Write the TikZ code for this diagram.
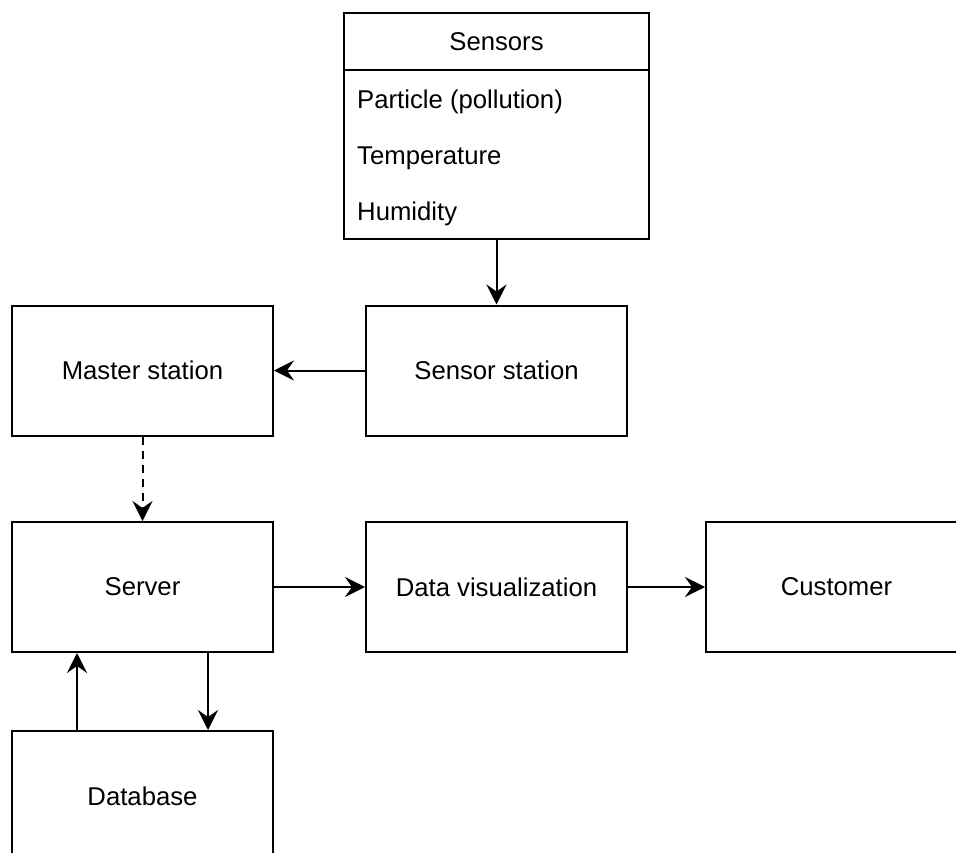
\documentclass[tikz,border=0pt]{standalone}
\usepackage{fontspec}
\setmainfont{Liberation Sans}
\usetikzlibrary{arrows.meta}
\begin{document}
\begin{tikzpicture}[x=1pt,y=-1pt,
  box/.style={draw=black,line width=2pt,fill=white,rectangle,inner sep=0pt,
    minimum width=261pt,minimum height=130pt,font=\fontsize{25.7}{30}\selectfont},
  itemtext/.style={anchor=base west,inner sep=0pt,font=\fontsize{25.7}{30}\selectfont},
  conn/.style={line width=2pt,-{Stealth[length=20pt,width=20pt,inset=7pt]}}]
\useasboundingbox (0,0) rectangle (956,853);
\clip (0,0) rectangle (956,853);
% Sensors box
\node[box,outer sep=0pt,minimum width=305pt,minimum height=169pt,anchor=north] (sbody) at (496.5,70) {};
\node[box,minimum width=305pt,minimum height=57pt] (shead) at (496.5,41.5) {Sensors};
\node[itemtext] (s1) at (357,109) {Particle (pollution)};
\node[itemtext] (s2) at (357,165) {Temperature};
\node[itemtext] (s3) at (357,221) {Humidity};
% boxes
\node[box] (station) at (496.5,370.5) {Sensor station};
\node[box] (master) at (142.5,370.5) {Master station};
\node[box] (server) at (142.5,587) {Server};
\node[box] (viz) at (496.5,587) {Data visualization};
\node[box] (cust) at (836.5,587) {Customer};
\node[box] (db) at (142.5,796) {Database};
% connectors
\draw[conn] (sbody.south) -- (station.north);
\draw[conn] (station.west) -- (master.east);
\draw[conn,dash pattern=on 8pt off 6pt] (master.south) -- (server.north);
\draw[conn] (server.east) -- (viz.west);
\draw[conn] (viz.east) -- (cust.west);
\draw[conn] (db.north -| 77,0) -- (server.south -| 77,0);
\draw[conn] (server.south -| 208,0) -- (db.north -| 208,0);
\end{tikzpicture}
\end{document}
